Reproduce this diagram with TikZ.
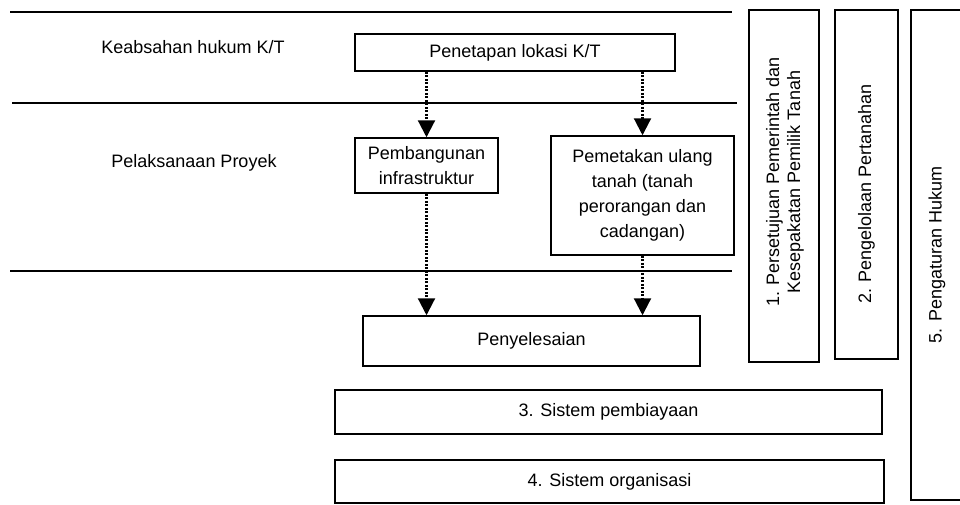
\documentclass[tikz,border=0pt]{standalone}
\usepackage{fontspec}
\setmainfont{Liberation Sans}
\usetikzlibrary{arrows.meta}

\begin{document}
\begin{tikzpicture}[x=1pt,y=-1pt,
	box/.style={draw, line width=1.5pt, inner sep=0pt, align=center},
	vtext/.style={rotate=90, align=center},
	flow/.style={-{Triangle[length=17pt,width=17pt]}, dash pattern=on 2pt off 1.5pt, line width=2.2pt},
	sep/.style={line width=1.3pt},
	every node/.style={font=\fontsize{18}{21}\selectfont}]
\useasboundingbox (0,0) rectangle (960,504);
\draw[sep] (10,12) -- (732,12);
\draw[sep] (12,103) -- (737,103);
\draw[sep] (10,271) -- (732,271);
\node (keabsahan) at (193,47) {Keabsahan hukum K/T};
\node (pelaksanaan) at (194,163) {Pelaksanaan Proyek};
\node (penetapan) at (515,52.5) [box, minimum width=320, minimum height=37] {Penetapan lokasi K/T};
	\node (pembangunan) at (426.5,165.5) [box, minimum width=143, minimum height=55, font=\fontsize{18}{25}\selectfont] {Pembangunan\\infrastruktur};
	\node (pemetakan) at (642.5,195.5) [box, minimum width=183, minimum height=119, font=\fontsize{18}{25}\selectfont] {Pemetakan ulang\\tanah (tanah\\perorangan dan\\cadangan)};
\node (penyelesaian) at (531.5,341) [box, minimum width=337, minimum height=50] {Penyelesaian};
\node (pembiayaan) at (608.5,412) [box, minimum width=547, minimum height=44] {3. Sistem pembiayaan};
\node (organisasi) at (609.5,481.5) [box, minimum width=549, minimum height=43] {4. Sistem organisasi};
\node (persetujuan) at (784,186) [box, minimum width=70, minimum height=352] {};
	\node (persetujuan-teks) at (785,182) [vtext] {1. Persetujuan Pemerintah dan\\Kesepakatan Pemilik Tanah};
\node (pengelolaan) at (866.5,184.5) [box, minimum width=63, minimum height=349] {};
	\node (pengelolaan-teks) at (866.5,194) [vtext] {2. Pengelolaan Pertanahan};
\node (pengaturan) at (945,255) [box, minimum width=68, minimum height=490] {};
	\node (pengaturan-teks) at (937,255) [vtext] {5. Pengaturan Hukum};
\draw[flow] (penetapan.south -| pembangunan.north) -- (pembangunan.north);
\draw[flow] (pembangunan.south) -- (penyelesaian.north -| pembangunan.south);
\draw[flow] (penetapan.south -| pemetakan.north) -- (pemetakan.north);
\draw[flow] (pemetakan.south) -- (penyelesaian.north -| pemetakan.south);
\end{tikzpicture}
\end{document}
